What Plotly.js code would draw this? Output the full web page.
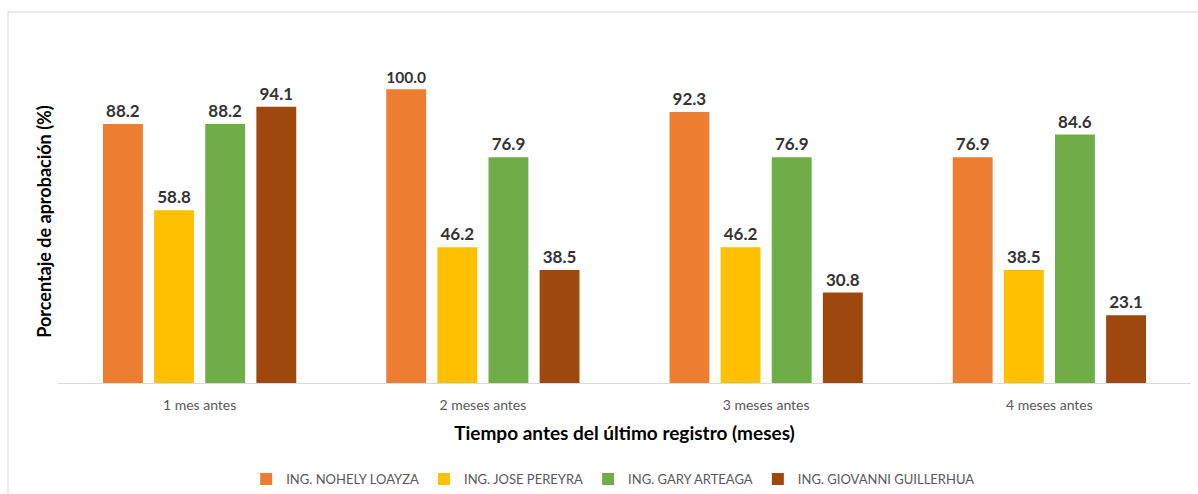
<!DOCTYPE html>
<html>
<head>
<meta charset="utf-8">
<script src="https://cdn.plot.ly/plotly-3.0.1.min.js"></script>
<style>html,body{margin:0;padding:0;background:#fff;}#chart{width:1198px;height:494px;}</style>
</head>
<body>
<div id="chart"></div>
<script>
const categories = ["1 mes antes", "2 meses antes", "3 meses antes", "4 meses antes"];
const seriesNames = ["ING. NOHELY LOAYZA", "ING. JOSE PEREYRA", "ING. GARY ARTEAGA", "ING. GIOVANNI GUILLERHUA"];
const loayza = [88.2, 100.0, 92.3, 76.9];
const pereyra = [58.8, 46.2, 46.2, 38.5];
const arteaga = [88.2, 76.9, 76.9, 84.6];
const guillerhua = [94.1, 38.5, 30.8, 23.1];
const colors = ["#ED7D31", "#FFC000", "#70AD47", "#9E480E"];

const values = [loayza, pereyra, arteaga, guillerhua];
const FONT = "Lato, 'Open Sans', sans-serif";
const traces = values.map((v, i) => ({
  type: "bar",
  name: seriesNames[i],
  x: categories,
  y: v,
  marker: {color: colors[i]},
  text: v.map(d => d.toFixed(1)),
  textposition: "outside",
  textfont: {family: FONT, size: 17, color: "#333333", weight: "bold"},
  cliponaxis: false,
  hoverinfo: "x+y"
}));

const layout = {
  width: 1198, height: 494,
  margin: {l: 58, r: 7, t: 60, b: 111, autoexpand: false},
  paper_bgcolor: "#ffffff", plot_bgcolor: "#ffffff",
  barmode: "group",
  bargap: 0.278,
  bargroupgap: 0.22,
  font: {family: FONT},
  showlegend: true,
  legend: {
    orientation: "h", x: 0.49, xanchor: "center", y: -0.297, yanchor: "middle",
    font: {family: FONT, size: 13, color: "#595959"},
    itemwidth: 30, traceorder: "normal"
  },
  xaxis: {
    type: "category", automargin: false,
    showline: true, linecolor: "#d9d9d9", linewidth: 1,
    ticks: "", ticklabelstandoff: 9, tickfont: {family: FONT, size: 14, color: "#595959"},
    title: {text: "Tiempo antes del último registro (meses)", font: {family: FONT, size: 19, color: "#000000", weight: "bold"}, standoff: 14}
  },
  yaxis: {
    range: [0, 110], automargin: false,
    showgrid: false, zeroline: false, showline: false, showticklabels: false, ticks: "",
    title: {text: "Porcentaje de aprobación (%)", font: {family: FONT, size: 18, color: "#000000", weight: "bold"}, standoff: 0}
  },
  shapes: [{
    type: "rect", xref: "paper", yref: "paper",
    x0: -0.0441, x1: 1.02, y0: -0.40, y1: 1.1486,
    line: {color: "#d9d9d9", width: 1}, fillcolor: "rgba(0,0,0,0)", layer: "below"
  }]
};

Plotly.newPlot("chart", traces, layout, {displayModeBar: false, staticPlot: true});
</script>
</body>
</html>
